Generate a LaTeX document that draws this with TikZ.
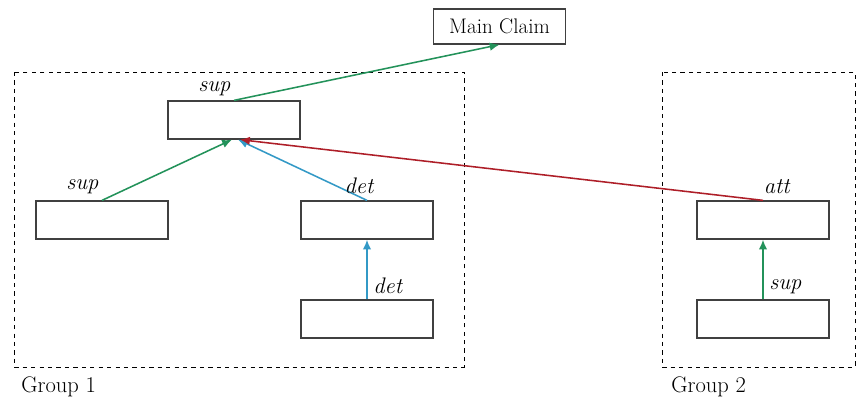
\documentclass[tikz,border=0pt]{standalone}
\definecolor{supGreen}{HTML}{23925A}
\definecolor{detBlue}{HTML}{3399C6}
\definecolor{attRed}{HTML}{AE1E28}
\usepackage{tikz}
\usetikzlibrary{positioning, arrows.meta}

\begin{document}
\begin{tikzpicture}[x=0.025cm, y=-0.025cm,
      box/.style={draw=black!75, fill=white, line width=0.9pt, minimum width=3.3cm, minimum height=0.95cm, inner sep=0pt},
      claim/.style={draw=black!75, fill=white, line width=0.9pt, minimum width=3.3cm, minimum height=0.875cm, font=\fontsize{15}{17}\selectfont},
      grp/.style={draw=black, dashed, line width=0.6pt},
      rel/.style={font=\fontsize{16}{18}\selectfont\itshape, inner sep=1pt, black},
      tag/.style={font=\fontsize{16}{18}\selectfont, anchor=west, inner sep=0pt},
      arr/.style={-{Latex[length=7pt, width=6pt]}, line width=1.1pt}]
    \useasboundingbox (0,0) rectangle (858,403);
    % groups
    \draw[grp] (14,72) rectangle (464,367);
    \draw[grp] (662,72) rectangle (855,367);
    \node[tag] (g1) at (21,387) {Group 1};
    \node[tag] (g2) at (671,387) {Group 2};
    % boxes
    \node[claim] (mc) at (499.5,26.5) {Main Claim};
    \node[box] (s1) at (234,120) {};
    \node[box] (s2) at (102,220) {};
    \node[box] (d1) at (367,220) {};
    \node[box] (d2) at (367,319) {};
    \node[box] (a1) at (763,220) {};
    \node[box] (a2) at (763,319) {};
    % relations
    \draw[arr, supGreen] (s1.north) -- node[rel, pos=0, anchor=south east, xshift=-1pt, yshift=2pt] {sup} (mc.south);
    \draw[arr, supGreen] (s2.north) -- node[rel, pos=0, anchor=south east, xshift=-1pt, yshift=3pt] {sup} ([xshift=-0.05cm]s1.south);
    \draw[arr, detBlue] (d1.north) -- node[rel, pos=0, anchor=south, xshift=-0.2cm, yshift=3pt] {det} ([xshift=0.1cm]s1.south);
    \draw[arr, detBlue] (d2.north) -- node[rel, pos=0.22, right, xshift=3pt] {det} (d1.south);
    \draw[arr, attRed] (a1.north) -- node[rel, pos=0, anchor=south west, xshift=-1pt, yshift=3pt] {att} ([xshift=0.15cm]s1.south);
    \draw[arr, supGreen] (a2.north) -- node[rel, pos=0.22, right, xshift=3pt] {sup} (a1.south);
  \end{tikzpicture}
\end{document}
